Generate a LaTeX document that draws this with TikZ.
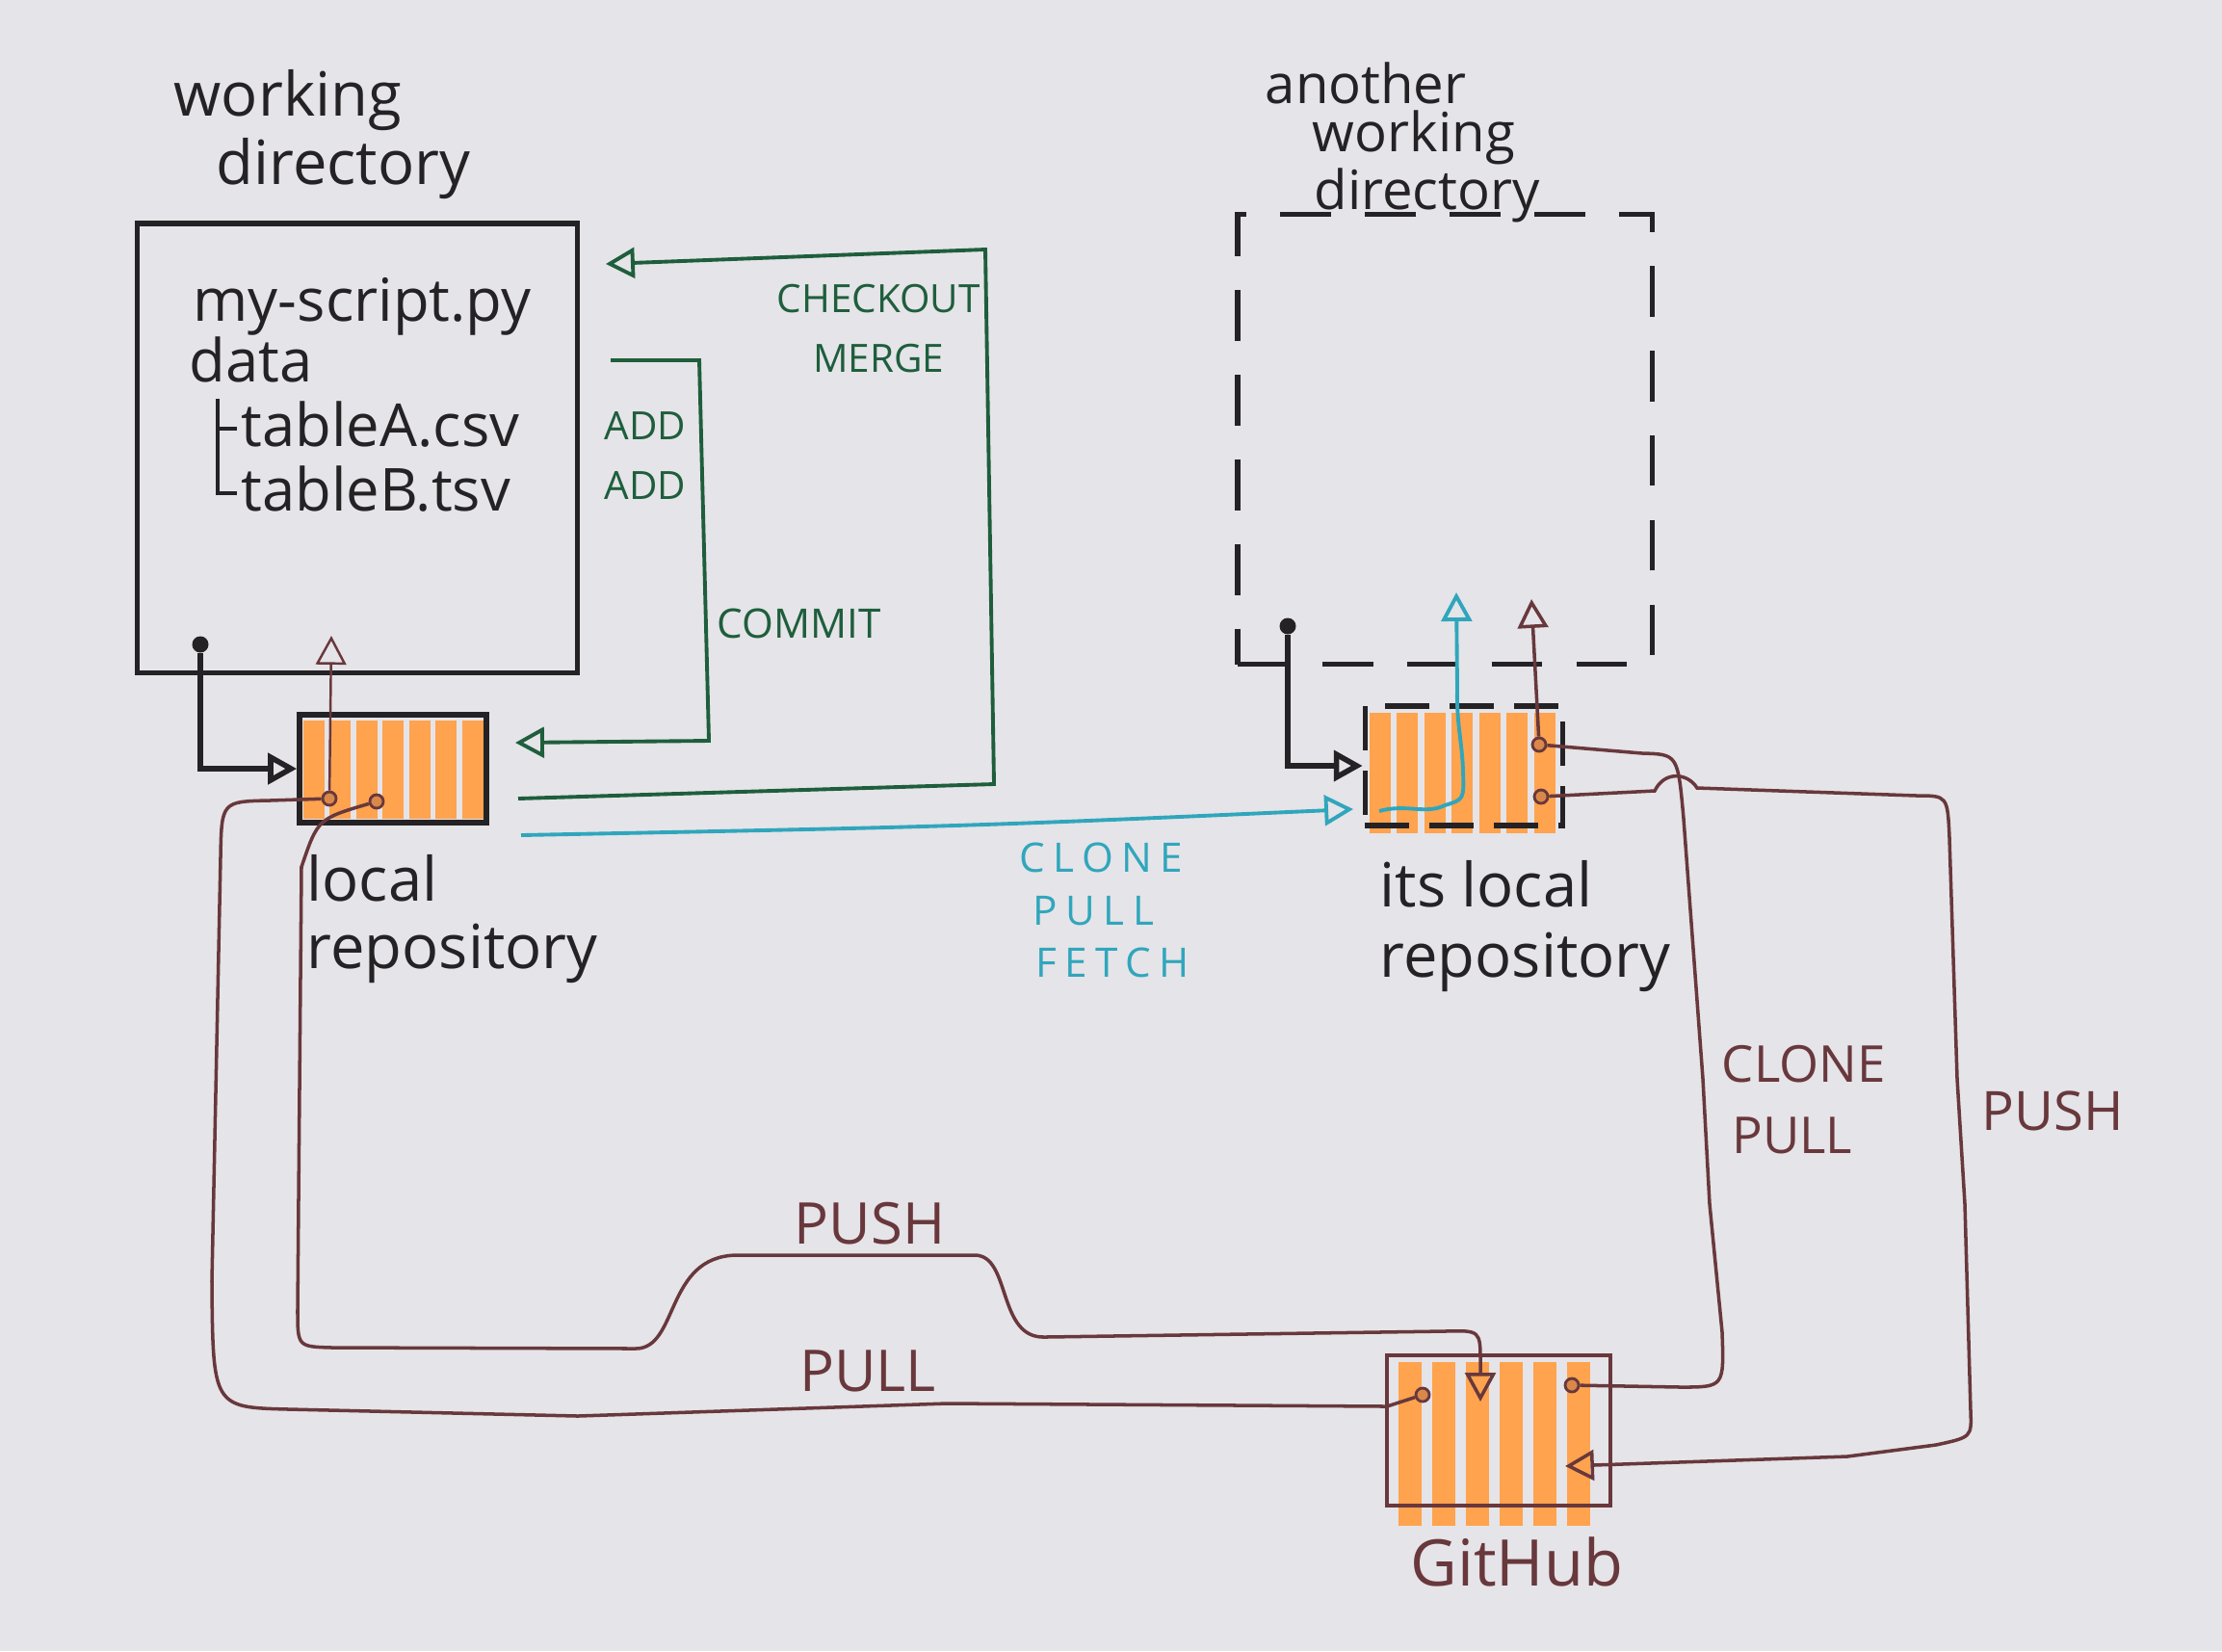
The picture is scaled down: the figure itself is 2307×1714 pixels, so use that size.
\documentclass[tikz,border=0pt]{standalone}
\usepackage{fontspec}
\setmainfont{Open Sans}
\usetikzlibrary{arrows.meta,backgrounds}

\definecolor{paper}{RGB}{229,228,232}
\definecolor{ink}{RGB}{36,34,37}
\definecolor{gitgreen}{RGB}{30,94,60}
\definecolor{gitcyan}{RGB}{48,166,188}
\definecolor{gitbrown}{RGB}{104,56,60}
\definecolor{marker}{RGB}{255,163,78}

\begin{document}
\begin{tikzpicture}[
	x=0.01cm, y=-0.01cm,
	>={Triangle[open, length=8.5pt, width=9pt]},
	folder/.style={rectangle, draw=ink, line width=1.5pt, inner sep=0pt},
	repo/.style={rectangle, draw=ink, line width=1.6pt, inner sep=0pt},
	sketchdash/.style={dash pattern=on 15pt off 10pt},
	blackdot/.style={circle, fill=ink, inner sep=0pt, minimum size=0.17cm},
	tapdot/.style={circle, draw=gitbrown, fill=marker!75!gitbrown, line width=0.8pt, inner sep=0pt, minimum size=0.14cm},
	handtext/.style={text=ink, font=\fontsize{18}{20}\selectfont, align=left, inner sep=0pt},
	filename/.style={text=ink, font=\fontsize{17.5}{20}\selectfont, inner sep=0pt, anchor=base west},
	greencap/.style={text=gitgreen, font=\fontsize{11.5}{17.9}\selectfont, inner sep=0pt},
	cyancap/.style={text=gitcyan, font=\fontsize{12}{15.6}\selectfont\addfontfeature{LetterSpace=20}, align=left, inner sep=0pt},
	browncap/.style={text=gitbrown, font=\fontsize{17}{21}\selectfont, inner sep=0pt},
	stagedflow/.style={draw=gitgreen, line width=1.1pt},
	syncflow/.style={draw=gitcyan, line width=1.1pt},
	remoteflow/.style={draw=gitbrown, line width=1pt}
]
\useasboundingbox (0,0) rectangle (2307,1714);

% --- Working directory and its files ---
\node[handtext, anchor=north west] (wdtitle) at (180,72) {working\\\hspace{12.5pt}directory};
\node[folder, minimum width=4.57cm, minimum height=4.66cm] (wdir) at (371,465) {};
\node[filename] (script) at (200,333) {my-script.py};
\node[filename] (datadir) at (196,396) {data};
\node[filename] (tablea) at (250,463) {tableA.csv};
\node[filename] (tableb) at (250,530) {tableB.tsv};
\draw[ink, line width=1.4pt] (226,414) |- (246,512);
\draw[ink, line width=1.4pt] (226,445) -- (246,445);
\node[blackdot] (wdpin) at (208,669) {};

% --- Local repository ---
\node[repo, minimum width=1.94cm, minimum height=1.12cm] (lrepo) at (408,798) {};
\node[handtext, font=\fontsize{18}{19.8}\selectfont, anchor=north west] (lrepotitle) at (318,887) {local\\repository};
\node[tapdot] (lpull) at (342,829) {};
\node[tapdot] (lpush) at (391,832) {};

% --- Another working directory ---
\node[handtext, font=\fontsize{16}{14.2}\selectfont, anchor=north west] (owdtitle) at (1313,64) {another\\\hspace{14pt}working\\\hspace{14.5pt}directory};
\node[folder, sketchdash, minimum width=4.30cm, minimum height=4.67cm] (owdir) at (1500,456) {};
\node[blackdot] (owdpin) at (1337,650) {};

% --- Its local repository ---
\node[repo, dash pattern=on 13pt off 6pt, minimum width=2.05cm, minimum height=1.24cm] (irepo) at (1520,795) {};
\node[handtext, font=\fontsize{18}{20.7}\selectfont, anchor=north west] (irepotitle) at (1432,893) {its local\\repository};
\node[tapdot] (ipull) at (1598,773) {};
\node[tapdot] (ipush) at (1600,827) {};

% --- GitHub ---
\node[rectangle, draw=gitbrown, line width=1.3pt, minimum width=2.32cm, minimum height=1.56cm] (ghub) at (1556,1485) {};
\node[browncap, font=\fontsize{19}{22}\selectfont] (ghtitle) at (1575,1621) {GitHub};
\node[tapdot] (gpull) at (1477,1448) {};
\node[tapdot] (gclone) at (1632,1438) {};

% --- Free ends ---
\coordinate (addtail) at (634,374);
\coordinate (addtip) at (535,771);
\coordinate (cotail) at (538,829);
\coordinate (cotip) at (629,274);
\coordinate (cltail) at (541,867);
\coordinate (cltip) at (1405,840);
\coordinate (wdin) at (344,660);
\coordinate (owdin) at (1590,622);
\coordinate (owdcyan) at (1512,615);
\coordinate (ghin) at (1537,1455);
\coordinate (ghright) at (1625,1522);

% --- Labels ---
\node[greencap, align=center] (addlabel) at (670,473) {ADD\\ADD};
\node[greencap, font=\fontsize{12}{14}\selectfont, anchor=base west] (commitlabel) at (744,662) {COMMIT};
\node[greencap, align=center] (checkoutlabel) at (912,341) {CHECKOUT\\MERGE};
\node[cyancap, anchor=west] (clonelabel) at (1058,945) {CLONE\\\hspace{4pt}PULL\\\hspace{4.8pt}FETCH};
\node[browncap, font=\fontsize{15}{21}\selectfont, align=left, anchor=west] (ghpullr) at (1787,1142) {CLONE\\\hspace{3pt}PULL};
\node[browncap, font=\fontsize{16}{20}\selectfont] (ghpushr) at (2131,1153) {PUSH};
\node[browncap] (ghpushl) at (903,1270) {PUSH};
\node[browncap] (ghpulll) at (901,1423) {PULL};

% --- Edges: working directories ---
\draw[ink, line width=1.6pt, ->] (wdpin) |- (lrepo.west);
\draw[ink, line width=1.6pt, ->] (owdpin) |- (irepo.west);
\draw[stagedflow, ->] (addtail) -- (726,374) -- (736,769) -- (addtip);
\draw[stagedflow, ->] (cotail) -- (1032,814) -- (1023,259) -- (cotip);
\draw[syncflow, ->] (cltail) .. controls (1000,858) .. (cltip);
\draw[syncflow, ->] (1432,842) .. controls (1460,834) and (1480,846) .. (1500,836) .. controls (1520,830) .. (1519,800) .. controls (1518,770) and (1512,750) .. (1513,715) -- (owdcyan);
\draw[remoteflow, line width=0.7pt, ->] (lpull) -- (wdin);
\draw[remoteflow, ->] (ipull) -- (owdin);

% --- Edges: GitHub ---
\draw[remoteflow] (gpull) -- (1440,1460) -- (983,1457) -- (600,1470) -- (300,1463) .. controls (221,1461) .. (220,1330) -- (229,890) .. controls (230,832) .. (280,831) -- (lpull);
\draw[remoteflow, ->] (lpush) .. controls (330,850) .. (313,900) -- (309,1360) .. controls (309,1398) .. (345,1399) -- (660,1400) .. controls (705,1400) and (690,1304) .. (765,1303) -- (1012,1303) .. controls (1050,1303) and (1035,1390) .. (1085,1388) -- (1500,1382) .. controls (1537,1381) .. (1537,1415) -- (ghin);
\draw[remoteflow] (gclone) -- (1745,1440) .. controls (1790,1440) .. (1788,1383) -- (1775,1250) -- (1768,1120) -- (1748,850) .. controls (1742,783) .. (1705,782) -- (ipull);
\draw[remoteflow, ->] (ipush) -- (1718,821) .. controls (1728,800) and (1752,802) .. (1762,818) -- (1990,826) .. controls (2022,826) .. (2024,870) -- (2032,1120) -- (2040,1250) -- (2046,1465) .. controls (2047,1492) .. (2010,1500) -- (1918,1512) -- (ghright);

\begin{scope}[on background layer]
  \fill[paper] (0,0) rectangle (2307,1714);
  \foreach \sx in {315,342,370,397,425,452,480} \fill[marker] (\sx,748) rectangle ++(22,102);
  \foreach \sx in {1422,1450,1479,1507,1536,1564,1593} \fill[marker] (\sx,740) rectangle ++(22,125);
  \foreach \sx in {1452,1487,1522,1557,1592,1627} \fill[marker] (\sx,1414) rectangle ++(24,170);
\end{scope}

\end{tikzpicture}
\end{document}
